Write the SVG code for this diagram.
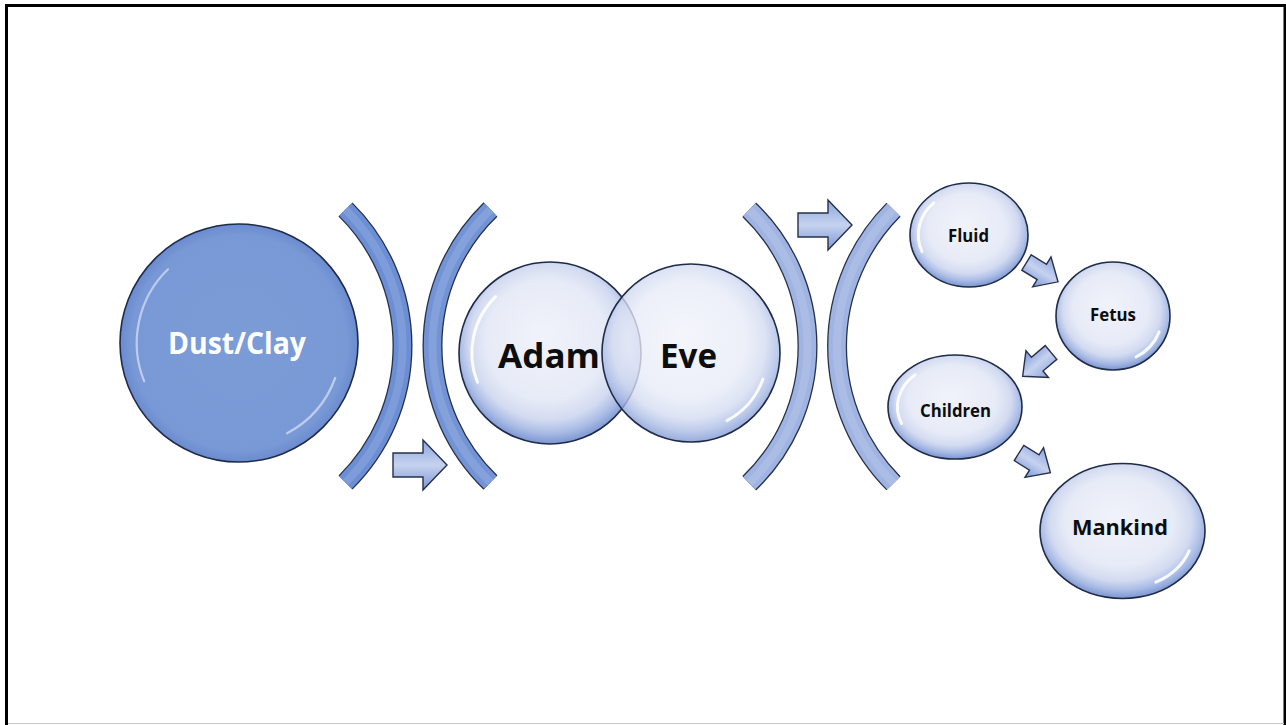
<svg xmlns="http://www.w3.org/2000/svg" width="1286" height="725" viewBox="0 0 1286 725">
  <style>
    .label { font-family: "Open Sans", "Liberation Sans", sans-serif; font-weight: 700; fill: #0d0d0d; }
    .label-light { font-family: "Open Sans", "Liberation Sans", sans-serif; font-weight: 700; fill: #ffffff; }
    .bubble { fill: url(#bubbleFill); stroke: #1f2b47; stroke-width: 1.6; }
    .shine { fill: none; stroke: #ffffff; stroke-width: 3; stroke-opacity: 0.9; stroke-linecap: round; }
    .shine-clay { fill: none; stroke: #d4def5; stroke-width: 2.2; stroke-opacity: 0.75; stroke-linecap: round; }
    .band-edge { fill: none; stroke: #27314a; stroke-width: 20; }
    .band-dark { fill: none; stroke: #6b8ed4; stroke-width: 17.4; }
    .band-light { fill: none; stroke: #9fb4e2; stroke-width: 17.4; }
    .band-gloss { fill: none; stroke: #ffffff; stroke-width: 8; stroke-opacity: 0.13; }
    .block-arrow { fill: url(#arrowFill); stroke: #26304a; stroke-width: 1.4; stroke-linejoin: miter; }
  </style>
  <defs>
    <radialGradient id="bubbleFill" cx="0.5" cy="0.45" r="0.55" fx="0.45" fy="0.4">
      <stop offset="0" stop-color="#f1f3fa"/>
      <stop offset="0.6" stop-color="#e7ebf7"/>
      <stop offset="0.78" stop-color="#d3dbf1"/>
      <stop offset="0.9" stop-color="#a9bbe5"/>
      <stop offset="1" stop-color="#7b95d2"/>
    </radialGradient>
    <radialGradient id="clayFill" cx="0.5" cy="0.5" r="0.5">
      <stop offset="0" stop-color="#7c9cd8"/>
      <stop offset="0.9" stop-color="#7999d6"/>
      <stop offset="1" stop-color="#6a8bcf"/>
    </radialGradient>
    <linearGradient id="arrowFill" x1="0" y1="0" x2="0" y2="1">
      <stop offset="0" stop-color="#8ba5dd"/>
      <stop offset="0.5" stop-color="#c6d2ef"/>
      <stop offset="1" stop-color="#7b97d5"/>
    </linearGradient>
    <!-- block arrows, tail at origin pointing along +x -->
    <path id="bigArrow" d="M0,-12 H30 V-25 L54,0 L30,25 V12 H0 Z"/>
    <path id="smallArrow" d="M0,-9 H18 V-17.5 L37,0 L18,17.5 V9 H0 Z"/>
  </defs>

  <!-- page frame -->
  <rect x="0" y="0" width="1286" height="725" fill="#ffffff"/>
  <path d="M6.5,725 V5.5 H1285 V725" fill="none" stroke="#000000" stroke-width="3"/>
  <line x1="8" y1="723.5" x2="1284" y2="723.5" stroke="#c8c8c8" stroke-width="1.2"/>

  <!-- curved brackets -->
  <g id="brackets">
    <g id="bracket-1">
      <path class="band-edge" d="M345.5,209.5 A191.9,191.9 0 0 1 345.5,482.5"/>
      <path class="band-dark" d="M345.5,209.5 A191.9,191.9 0 0 1 345.5,482.5"/>
      <path class="band-gloss" d="M345.5,209.5 A191.9,191.9 0 0 1 345.5,482.5"/>
    </g>
    <g id="bracket-2">
      <path class="band-edge" d="M490.5,209.5 A189.6,189.6 0 0 0 490.5,482.5"/>
      <path class="band-dark" d="M490.5,209.5 A189.6,189.6 0 0 0 490.5,482.5" style="stroke:#7293d6"/>
      <path class="band-gloss" d="M490.5,209.5 A189.6,189.6 0 0 0 490.5,482.5"/>
    </g>
    <g id="bracket-3">
      <path class="band-edge" d="M749.2,209.7 A189.6,189.6 0 0 1 749.2,483.3"/>
      <path class="band-light" d="M749.2,209.7 A189.6,189.6 0 0 1 749.2,483.3"/>
      <path class="band-gloss" d="M749.2,209.7 A189.6,189.6 0 0 1 749.2,483.3"/>
    </g>
    <g id="bracket-4">
      <path class="band-edge" d="M893.5,209.7 A194,194 0 0 0 893.5,483.3"/>
      <path class="band-light" d="M893.5,209.7 A194,194 0 0 0 893.5,483.3"/>
      <path class="band-gloss" d="M893.5,209.7 A194,194 0 0 0 893.5,483.3"/>
    </g>
  </g>

  <!-- nodes -->
  <g id="node-dust">
    <circle cx="239" cy="343" r="119" fill="url(#clayFill)" stroke="#1f2b47" stroke-width="1.6"/>
    <path class="shine-clay" d="M144.2,381.3 A102.3,102.3 0 0 1 168,269.3"/>
    <path class="shine-clay" d="M335.2,378 A102.3,102.3 0 0 1 287.1,433.3"/>
    <text class="label-light" x="168" y="354" font-size="30" textLength="138" lengthAdjust="spacingAndGlyphs">Dust/Clay</text>
  </g>

  <g id="node-adam">
    <circle class="bubble" cx="550" cy="353" r="91"/>
    <path class="shine" d="M477.5,382.3 A78.3,78.3 0 0 1 495.7,296.7"/>
    <text class="label" x="498" y="368" font-size="34" textLength="102" lengthAdjust="spacingAndGlyphs">Adam</text>
  </g>

  <g id="node-eve">
    <circle class="bubble" cx="691" cy="353" r="89" fill-opacity="0.78"/>
    <path class="shine" d="M762.9,379.2 A76.5,76.5 0 0 1 727,420.6"/>
    <text class="label" x="660" y="368" font-size="34" textLength="57" lengthAdjust="spacingAndGlyphs">Eve</text>
  </g>

  <g id="node-fluid">
    <ellipse class="bubble" cx="969" cy="235" rx="59" ry="52"/>
    <path class="shine" d="M922,251.7 A50.7,44.7 0 0 1 933.8,202.8"/>
    <text class="label" x="948" y="241.5" font-size="17" textLength="41" lengthAdjust="spacingAndGlyphs">Fluid</text>
  </g>

  <g id="node-fetus">
    <ellipse class="bubble" cx="1113" cy="316" rx="57" ry="54"/>
    <path class="shine" d="M1159.1,331.9 A49,46.4 0 0 1 1136,357"/>
    <text class="label" x="1090" y="320.5" font-size="17" textLength="46" lengthAdjust="spacingAndGlyphs">Fetus</text>
  </g>

  <g id="node-children">
    <ellipse class="bubble" cx="955" cy="407" rx="67" ry="52"/>
    <path class="shine" d="M901.6,423.7 A57.6,44.7 0 0 1 915,374.8"/>
    <text class="label" x="920" y="416.5" font-size="17" textLength="71" lengthAdjust="spacingAndGlyphs">Children</text>
  </g>

  <g id="node-mankind">
    <ellipse class="bubble" cx="1122.5" cy="531" rx="82.5" ry="67.5"/>
    <path class="shine" d="M1189.2,550.8 A71,58.1 0 0 1 1155.8,582.2"/>
    <text class="label" x="1072" y="535" font-size="22" textLength="96" lengthAdjust="spacingAndGlyphs">Mankind</text>
  </g>

  <!-- flow arrows -->
  <g id="connectors">
    <use href="#bigArrow" class="block-arrow" transform="translate(393,465)"/>
    <use href="#bigArrow" class="block-arrow" transform="translate(798,225)"/>
    <use href="#smallArrow" class="block-arrow" transform="translate(1026.5,262.5) rotate(31.5)"/>
    <use href="#smallArrow" class="block-arrow" transform="translate(1051,352.5) rotate(140)"/>
    <use href="#smallArrow" class="block-arrow" transform="translate(1019,453) rotate(32)"/>
  </g>
</svg>
